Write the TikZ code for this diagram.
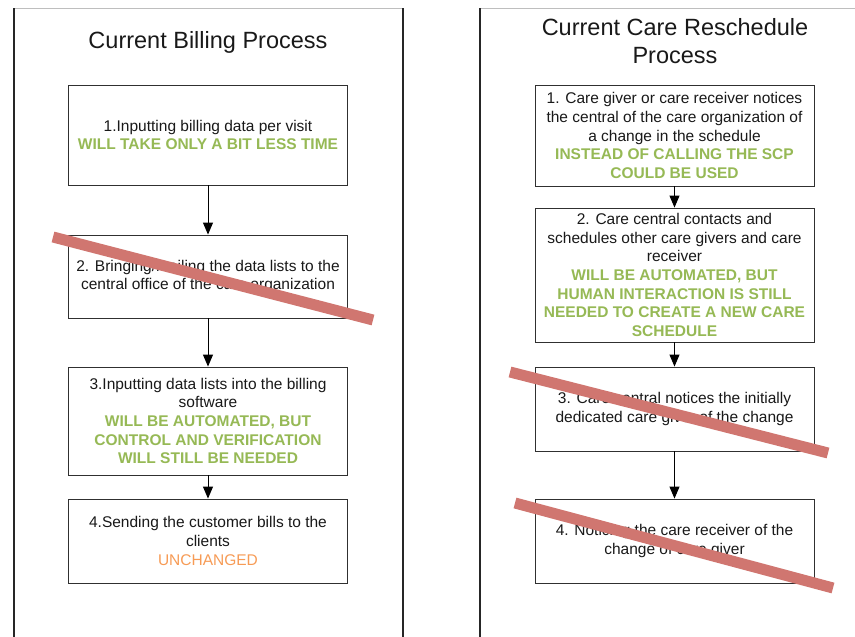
\documentclass[tikz,border=0pt]{standalone}
\usepackage{fontspec}
\setmainfont{Liberation Sans}
\usetikzlibrary{arrows.meta}
\definecolor{okgreen}{RGB}{150,185,85}
\definecolor{keeporange}{RGB}{247,155,85}
\definecolor{strike}{RGB}{208,118,112}
\definecolor{frame}{RGB}{190,190,190}
\definecolor{ink}{RGB}{25,25,25}
\newcommand{\gain}[1]{{\color{okgreen}\bfseries #1}}
\newcommand{\same}[1]{{\color{keeporange}#1}}
\begin{document}
\begin{tikzpicture}[x=1pt,y=-1pt,
  stepbox/.style={draw=ink!90, line width=0.9pt, fill=white, minimum width=279pt,
    align=center, text=ink, inner sep=2pt,
    font=\fontsize{15.5}{18.6}\selectfont},
  flow/.style={draw=black, line width=1pt, -{Triangle[length=12pt,width=10pt]}},
  title/.style={text=ink, align=center, font=\fontsize{23.5}{28}\selectfont},
  panel/.style={draw=black!85, line width=1.4pt},
  paneltop/.style={draw=frame, line width=1pt},
  cross/.style={draw=strike, line width=11pt}]
\useasboundingbox (0,0) rectangle (855,637);

% panel frames
\draw[paneltop] (14,8) -- (403,8);
\draw[panel] (14,8) -- (14,637);
\draw[panel] (403,8) -- (403,637);
\draw[paneltop] (480,8) -- (855,8);
\draw[panel] (480,8) -- (480,637);

% billing process
\node[title] (tl) at (208,42) {Current Billing Process};
\node[stepbox, minimum height=100pt] (b1) at (208,135)
  {1.Inputting billing data per visit\\ \gain{WILL TAKE ONLY A BIT LESS TIME}};
\node[stepbox, minimum height=83pt] (b2) at (208,276.5)
  {2. Bringing/mailing the data lists to the\\ central office of the care organization};
\node[stepbox, minimum height=108pt] (b3) at (208,421)
  {3.Inputting data lists into the billing\\ software\\ \gain{WILL BE AUTOMATED, BUT}\\
   \gain{CONTROL AND VERIFICATION}\\ \gain{WILL STILL BE NEEDED}};
\node[stepbox, minimum height=84pt] (b4) at (208,541)
  {4.Sending the customer bills to the\\ clients\\ \same{UNCHANGED}};
\draw[flow] (b1) -- (b2);
\draw[flow] (b2) -- (b3);
\draw[flow] (b3) -- (b4);

% care reschedule process
\node[title] (tr) at (675,41) {Current Care Reschedule\\ Process};
\node[stepbox, minimum height=101pt] (r1) at (674.5,135.5)
  {1. Care giver or care receiver notices\\ the central of the care organization of\\
   a change in the schedule\\ \gain{INSTEAD OF CALLING THE SCP}\\ \gain{COULD BE USED}};
\node[stepbox, minimum height=134pt] (r2) at (674.5,275)
  {2. Care central contacts and\\ schedules other care givers and care\\ receiver\\
   \gain{WILL BE AUTOMATED, BUT}\\ \gain{HUMAN INTERACTION IS STILL}\\
   \gain{NEEDED TO CREATE A NEW CARE}\\ \gain{SCHEDULE}};
\node[stepbox, minimum height=84pt] (r3) at (674.5,409)
  {3. Care central notices the initially\\ dedicated care giver of the change};
\node[stepbox, minimum height=84pt] (r4) at (674.5,541)
  {4. Noticing the care receiver of the\\ change of care giver};
\draw[flow] (r1) -- (r2);
\draw[flow] (r2) -- (r3);
\draw[flow] (r3) -- (r4);

% steps that drop out
\coordinate (s1a) at (53,237);  \coordinate (s1b) at (373,320);
\coordinate (s2a) at (510,372); \coordinate (s2b) at (828,453);
\coordinate (s3a) at (515,503); \coordinate (s3b) at (833,588);
\draw[cross] (s1a) -- (s1b);
\draw[cross] (s2a) -- (s2b);
\draw[cross] (s3a) -- (s3b);
\end{tikzpicture}
\end{document}
